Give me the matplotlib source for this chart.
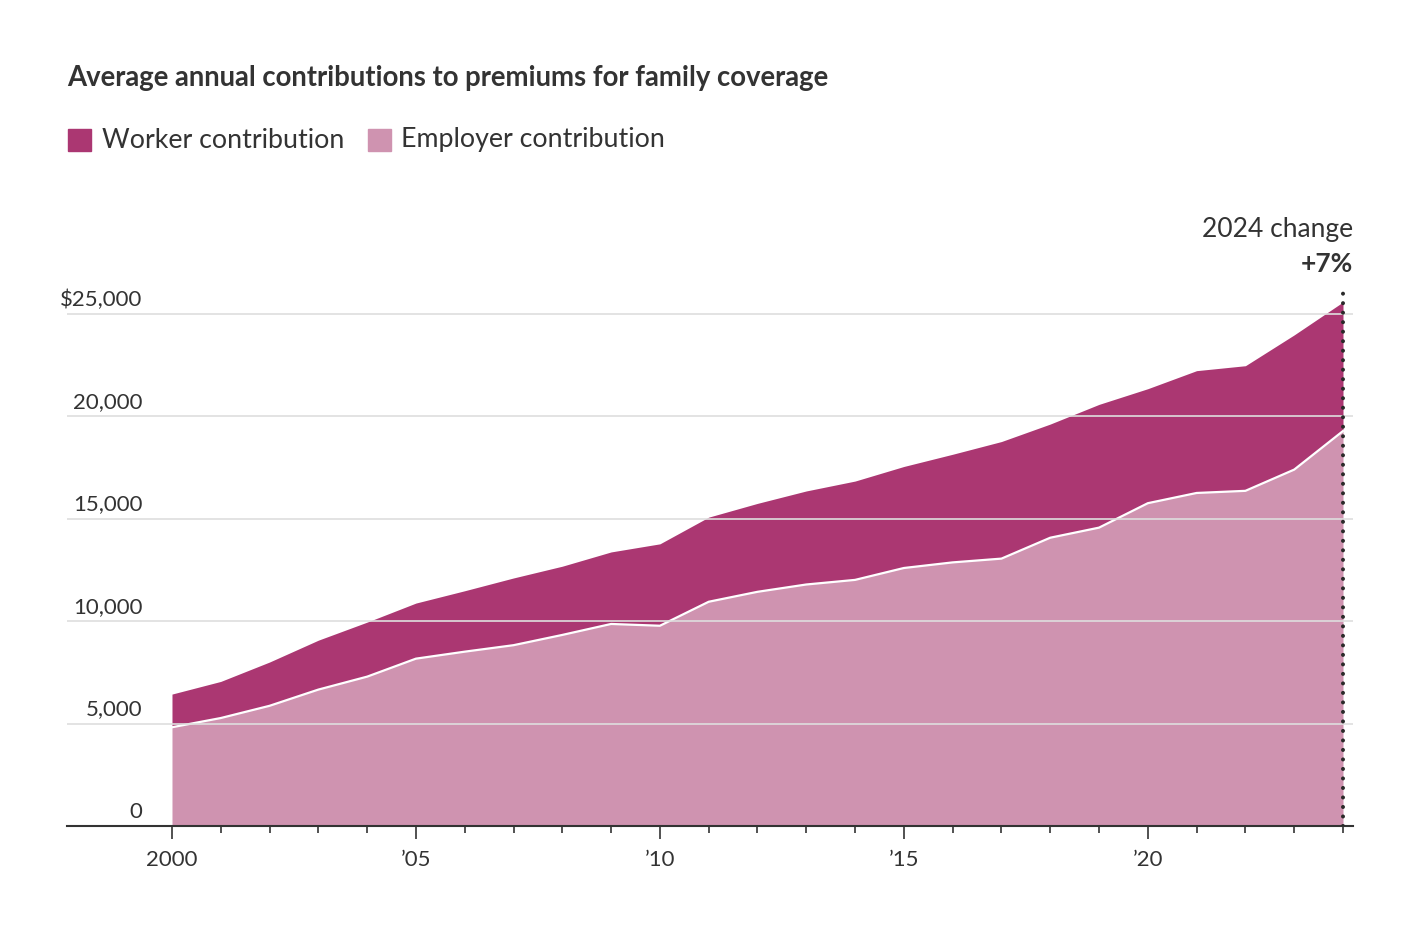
import numpy as np
import matplotlib.pyplot as plt
from matplotlib.ticker import FixedLocator

# data
years = list(range(2000, 2025))
employer = [4819, 5269, 5866, 6657, 7289, 8167, 8508, 8824, 9325, 9860,
            9773, 10944, 11429, 11786, 12011, 12591, 12865, 13049, 14069, 14561,
            15754, 16253, 16357, 17393, 19276]
worker = [1619, 1787, 2137, 2412, 2661, 2713, 2973, 3281, 3354, 3515,
          3997, 4129, 4316, 4565, 4823, 4955, 5277, 5714, 5547, 6015,
          5588, 5969, 6106, 6575, 6296]
y_ticks = [0, 5000, 10000, 15000, 20000, 25000]
y_labels = ["0", "5,000", "10,000", "15,000", "20,000", "$25,000"]
x_ticks = [2000, 2005, 2010, 2015, 2020]
x_labels = ["2000", "\u201905", "\u201910", "\u201915", "\u201920"]

WORKER_C = "#ab3772"
EMPLOYER_C = "#cf93b0"
TEXT_C = "#333333"

plt.rcParams['font.family'] = ['Lato', 'DejaVu Sans']

fig = plt.figure(figsize=(14.2, 9.33), dpi=100)
ax = fig.add_axes([67 / 1420, 1 - 826 / 933, (1353 - 67) / 1420, (826 - 283) / 933])

x = np.array(years)
emp = np.array(employer)
tot = emp + np.array(worker)

ax.fill_between(x, 0, emp, color=EMPLOYER_C, lw=0, zorder=1)
ax.fill_between(x, emp, tot, color=WORKER_C, lw=0, zorder=1)
ax.plot(x, emp, color="white", lw=1.6, zorder=2)

ax.set_xlim(2000 - 105 / 48.8, 2024 + 10 / 48.8)
ax.set_ylim(0, 26500)

# gridlines over the fill
for v in y_ticks[1:]:
    ax.axhline(v, color="#dedede", lw=1.2, zorder=3)
for v, lab in zip(y_ticks, y_labels):
    ax.text(1999.4, v + 700, lab, ha="right", va="center", fontsize=16, color=TEXT_C)

# 2024 marker
ax.plot([2024, 2024], [0, 26200], color="#2a2a2a", lw=2.9, ls=(0, (0.01, 2.35)),
        dash_capstyle="round", zorder=4)
ax.text(1, 1.098, "2024 change", transform=ax.transAxes, ha="right", va="center",
        fontsize=19, color=TEXT_C)
ax.text(1, 1.035, "+7%", transform=ax.transAxes, ha="right", va="center",
        fontsize=19, fontweight="bold", color=TEXT_C)

for side in ["top", "right", "left"]:
    ax.spines[side].set_visible(False)
ax.spines["bottom"].set_color(TEXT_C)
ax.spines["bottom"].set_linewidth(1.5)
ax.set_yticks([])
ax.xaxis.set_major_locator(FixedLocator(x_ticks))
ax.set_xticklabels(x_labels, fontsize=16, color=TEXT_C)
ax.xaxis.set_minor_locator(FixedLocator(years))
ax.tick_params(axis="x", which="major", length=9, width=1.2, color=TEXT_C, pad=8)
ax.tick_params(axis="x", which="minor", length=5, width=1.2, color=TEXT_C)

# title and legend
fig.text(67 / 1420, 1 - 78 / 933, "Average annual contributions to premiums for family coverage",
         fontsize=19.8, fontweight="bold", color=TEXT_C, va="center", ha="left")
fig.patches.append(plt.Rectangle((68 / 1420, 1 - 151 / 933), 23 / 1420, 22 / 933,
                                 transform=fig.transFigure, color=WORKER_C))
fig.text(102 / 1420, 1 - 140 / 933, "Worker contribution", fontsize=19.3, color=TEXT_C,
         va="center", ha="left")
fig.patches.append(plt.Rectangle((368 / 1420, 1 - 151 / 933), 23 / 1420, 22 / 933,
                                 transform=fig.transFigure, color=EMPLOYER_C))
fig.text(401 / 1420, 1 - 140 / 933, "Employer contribution", fontsize=19.3, color=TEXT_C,
         va="center", ha="left")

fig.savefig("out.png", dpi=100)
